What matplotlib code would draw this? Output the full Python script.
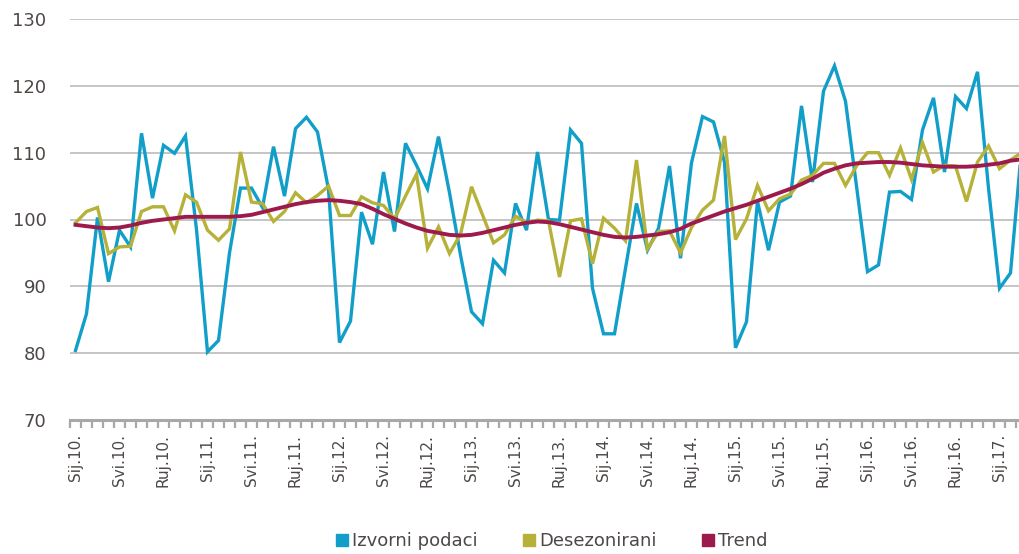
import numpy as np
import matplotlib
matplotlib.use("Agg")
from matplotlib import pyplot as plt
from matplotlib.lines import Line2D

# monthly series, Sij.10. (Jan 2010) .. Ožu.17. (Mar 2017)
izvorni = [80.4, 85.9, 100.3, 90.7, 98.4, 95.9, 112.9, 103.2, 111.1, 109.9, 112.5, 98.5,
           80.2, 81.9, 95.0, 104.7, 104.7, 101.8, 110.9, 103.5, 113.6, 115.3, 113.1, 104.5,
           81.6, 84.8, 101.1, 96.3, 107.1, 98.2, 111.4, 108.1, 104.6, 112.4, 104.0, 94.7,
           86.2, 84.4, 93.9, 92.0, 102.4, 98.4, 110.1, 100.0, 99.9, 113.4, 111.4, 89.7,
           82.9, 82.9, 92.7, 102.4, 95.4, 98.7, 108.0, 94.2, 108.5, 115.4, 114.6, 108.6,
           80.8, 84.7, 102.7, 95.4, 102.6, 103.5, 117.0, 105.6, 119.2, 123.0, 117.7, 105.0,
           92.2, 93.2, 104.1, 104.2, 103.0, 113.4, 118.2, 107.1, 118.4, 116.6, 122.1, 104.7,
           89.7, 92.0, 110.5]
desezonirani = [99.5, 101.2, 101.8, 94.9, 95.9, 96.0, 101.2, 101.9, 101.9, 98.3, 103.7, 102.6,
                98.4, 96.9, 98.6, 110.1, 102.6, 102.4, 99.7, 101.2, 104.0, 102.5, 103.6, 105.0,
                100.6, 100.6, 103.4, 102.5, 102.1, 100.1, 103.5, 106.8, 95.7, 98.9, 94.9, 97.8,
                104.9, 100.7, 96.5, 97.7, 100.5, 99.5, 99.9, 99.8, 91.4, 99.8, 100.1, 93.4,
                100.2, 98.7, 96.8, 108.9, 95.6, 98.2, 98.3, 95.0, 98.8, 101.4, 102.9, 112.5,
                97.0, 100.1, 105.1, 101.3, 103.1, 103.8, 105.9, 106.6, 108.4, 108.4, 105.1, 108.0,
                110.0, 110.0, 106.6, 110.7, 106.0, 111.5, 107.1, 108.1, 108.0, 102.7, 108.6, 111.0,
                107.6, 108.9, 110.0]
trend = [99.2, 99.0, 98.8, 98.7, 98.8, 99.1, 99.5, 99.8, 100.0, 100.2, 100.4, 100.4,
         100.4, 100.4, 100.4, 100.5, 100.7, 101.1, 101.5, 101.9, 102.3, 102.6, 102.8, 102.9,
         102.8, 102.6, 102.3, 101.6, 100.8, 100.1, 99.4, 98.8, 98.3, 98.0, 97.7, 97.6,
         97.7, 98.0, 98.4, 98.8, 99.2, 99.5, 99.7, 99.6, 99.3, 98.9, 98.5, 98.1,
         97.7, 97.4, 97.3, 97.4, 97.6, 97.8, 98.1, 98.6, 99.4, 100.0, 100.6, 101.2,
         101.7, 102.2, 102.8, 103.4, 104.0, 104.6, 105.3, 106.1, 107.0, 107.6, 108.1, 108.4,
         108.5, 108.6, 108.6, 108.5, 108.3, 108.1, 108.0, 107.9, 107.9, 107.9, 108.0, 108.2,
         108.4, 108.8, 109.0]

mjeseci = ["Sij", "Svi", "Ruj"]
godine = ["10", "11", "12", "13", "14", "15", "16", "17"]
oznake = ["%s.%s." % (m, g) for g in godine for m in mjeseci][:22]

TEXT = "#4d4846"
GRID = "#c0c0c0"

plt.rcParams['font.family'] = ['DejaVu Sans']

fig = plt.figure(figsize=(10.19, 5.54), dpi=100, facecolor='w')
# plot area runs a bit past the right edge of the picture, like the source
ax = fig.add_axes([70 / 1019., 1 - 420 / 554., 957 / 1019., 401 / 554.])

x = np.arange(len(izvorni))
ax.plot(x, izvorni, color='#119fc9', lw=2.4, solid_joinstyle='miter', zorder=3)
ax.plot(x, desezonirani, color='#b6b139', lw=2.4, solid_joinstyle='miter', zorder=4)
ax.plot(x, trend, color='#9c1a4c', lw=2.8, zorder=5)

ax.set_ylim(70, 130)
ax.set_xlim(-0.5, len(izvorni) - 0.5)
ax.set_yticks(np.arange(70, 131, 10))
ax.yaxis.grid(True, color=GRID, lw=1.3)
ax.set_axisbelow(True)

for s in ['top', 'right', 'left']:
    ax.spines[s].set_visible(False)
ax.spines['bottom'].set_color('#a8a8a8')
ax.spines['bottom'].set_linewidth(2.2)

ax.tick_params(axis='y', length=0, pad=17, labelsize=13, labelcolor=TEXT)

ax.set_xticks(np.arange(len(oznake)) * 4)
ax.set_xticklabels(oznake, rotation=90)
ax.set_xticks(np.arange(-0.5, len(izvorni)), minor=True)
ax.tick_params(axis='x', which='major', length=0, pad=10, labelsize=11, labelcolor=TEXT)
ax.tick_params(axis='x', which='minor', length=6, width=1.6, color='#a8a8a8')

handles = [Line2D([], [], ls='none', marker='s', ms=9, color=c)
           for c in ['#119fc9', '#b6b139', '#9c1a4c']]
leg = fig.legend(handles, ['Izvorni podaci', 'Desezonirani', 'Trend'],
                 loc='lower center', bbox_to_anchor=(0.54, -0.022), ncol=3,
                 frameon=False, fontsize=13, handletextpad=0.1, columnspacing=2.3,
                 handlelength=1.0)
for t in leg.get_texts():
    t.set_color(TEXT)

fig.savefig('out.png', dpi=100)
plt.close(fig)
